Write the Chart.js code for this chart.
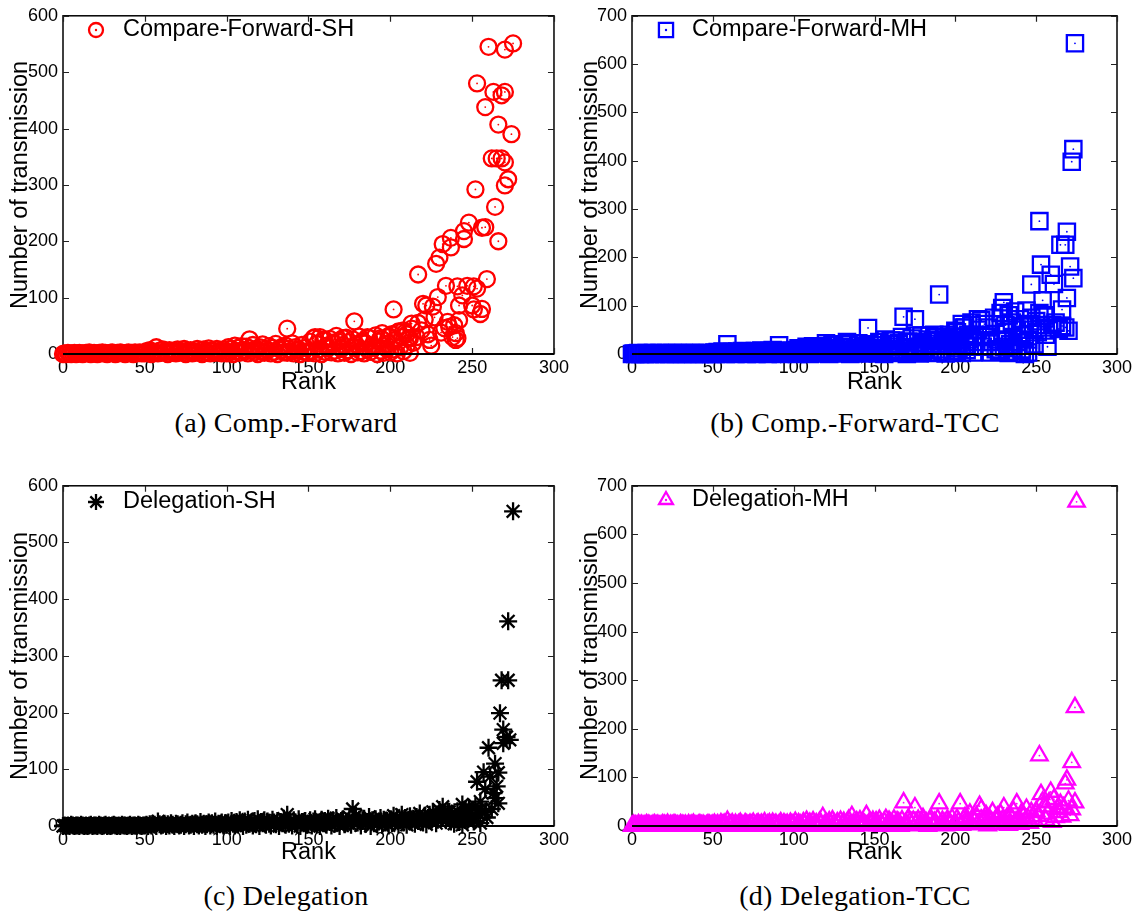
<!DOCTYPE html>
<html><head><meta charset="utf-8">
<script src="https://cdn.jsdelivr.net/npm/chart.js@4.4.1/dist/chart.umd.min.js"></script>
<style>
html,body{margin:0;padding:0;background:#fff;}
body{width:1145px;height:916px;position:relative;overflow:hidden;}
canvas{position:absolute;}
.cap{position:absolute;font-family:"Liberation Serif","Times New Roman",serif;font-size:28px;letter-spacing:0.3px;color:#000;white-space:nowrap;transform:translateX(-50%);line-height:1;}
</style></head><body>
<canvas id="ca" width="572" height="400" style="left:0;top:0"></canvas>
<canvas id="cb" width="572" height="400" style="left:570px;top:0"></canvas>
<canvas id="cc" width="572" height="400" style="left:0;top:470px"></canvas>
<canvas id="cd" width="572" height="400" style="left:570px;top:470px"></canvas>
<div class="cap" style="left:286px;top:409px">(a) Comp.-Forward</div>
<div class="cap" style="left:855px;top:409px">(b) Comp.-Forward-TCC</div>
<div class="cap" style="left:286px;top:882px">(c) Delegation</div>
<div class="cap" style="left:855px;top:882px">(d) Delegation-TCC</div>
<script>
// ---------- data ----------
const xTicks = [0, 50, 100, 150, 200, 250, 300];
const yTicksSH = [0, 100, 200, 300, 400, 500, 600];
const yTicksMH = [0, 100, 200, 300, 400, 500, 600, 700];

const labelA = "Compare-Forward-SH";
const labelB = "Compare-Forward-MH";
const labelC = "Delegation-SH";
const labelD = "Delegation-MH";

// transmissions for ranks 0,1,2,... (one node per rank)
const sentA = [
0,1,0,2,1,0,1,2,0,1, 2,1,0,1,2,1,3,0,1,2, 1,0,2,1,3,1,2,0,1,2, 3,1,0,2,1,3,2,1,0,2, 3,1,2,0,3,1,2,3,1,2,
1,5,2,7,0,4,3,12,1,6, 2,8,3,5,0,7,4,2,6,1, 8,3,5,2,9,0,6,4,7,1, 5,3,9,2,6,0,8,4,3,10, 1,7,5,2,9,4,6,1,8,3,
1,12,3,9,0,15,5,11,2,14, 7,4,13,1,10,6,16,3,8,0, 12,5,17,2,9,6,14,1,11,4, 18,0,10,7,13,3,15,2,9,5, 19,1,12,6,8,0,16,4,11,3,
2,22,5,28,1,18,8,30,0,25, 4,15,10,27,3,20,6,32,1,24, 9,16,2,29,7,21,0,26,12,17, 3,31,5,23,1,19,8,28,4,14, 11,33,0,22,6,26,2,18,9,30,
3,35,8,25,1,40,12,30,5,38, 15,28,2,45,20];
// additional (rank, transmissions) points
const extraRankA = [260,270,275,253,263,268,270,258,266,274, 262,265,268,270,272,270,252,264,248,245,
 245,256,258,266,237,237,232,230,228,217, 259,234,241,247,251,253,244,229,220,222,
 242,250,251,256,255,226,202,227,221,217, 213,242,235,233,239,240,241,240,224,225,
 178,137,114,195,205,154,171,194,160,168, 183,186,199,208,210,212,203, 216,219,223,231,236,238];
const extraSentA = [545,540,551,480,465,459,465,438,407,390, 347,347,347,340,310,299,292,261,233,218,
 204,224,225,200,206,189,195,171,160,141, 133,121,120,121,120,116,104,101,89,86,
 86,86,79,80,71,84,79,65,61,55, 54,60,57,46,51,37,28,25,25,15,
 58,45,26,37,39,30,28,28,25,22, 20,30,32,42,35,28,25, 30,42,35,38,48,30];

const sentB = [
0,1,0,1,2,0,1,1,0,2, 1,0,1,2,1,0,1,2,1,1, 0,2,1,0,1,2,1,0,2,1, 1,0,2,1,0,1,2,1,0,2, 1,1,0,2,1,0,1,2,1,0,
1,3,0,4,2,1,5,2,0,20, 3,1,4,2,0,5,3,1,6,2, 4,0,3,5,1,2,6,0,4,3, 7,1,5,2,0,6,3,8,1,4, 2,18,0,7,3,1,5,4,2,6,
2,8,0,12,5,1,10,3,15,6, 0,9,4,14,2,7,11,1,16,5, 3,12,0,8,18,4,10,2,13,6, 1,15,7,3,20,0,9,5,12,2, 17,4,8,1,14,6,54,3,10,5,
4,18,1,25,8,12,0,30,6,20, 3,15,10,28,2,22,7,35,77,14, 0,26,11,32,4,72,9,24,1,38, 6,16,12,30,3,21,8,40,2,27, 123,10,5,34,1,22,16,29,7,36,
5,45,12,30,2,55,20,8,40,15, 60,3,35,25,50];
const extraRankB = [274,273,272,252,269,265,268,253,271,259, 273,261,247,269,254,230,266,257,
 216,218,220,222,224,226,228,229,231,232, 233,234,235,236,237,238,239,240,241,242,
 243,244,245,246,247,248,249,250,251,252, 253,255,256,258,260,262,264,266,268,270,
 225,230,221,227,219,217,214,212,210,208, 206,204,202,200,198,196,194,192,188,186,
 184,180,178,172,165,160,155,140,133,125, 120,112, 222,228,233,238,243,245,236,241];
const extraSentB = [643,424,398,275,253,226,226,185,181,164, 157,145,144,116,111,107,92,15,
 70,62,55,40,75,30,85,95,60,45, 80,20,65,35,88,50,25,72,10,58,
 40,90,30,62,75,50,20,68,45,85, 60,80,40,55,60,65,52,58,55,48,
 10,15,25,5,35,15,72,40,65,30, 55,62,35,48,25,40,30,18,35,28,
 38,22,15,25,20,28,18,22,25,20, 22,16, 3,8,2,5,0,3,12,6];

const sentC = [
0,1,0,1,0,2,1,0,1,1, 0,2,1,0,1,0,1,2,0,1, 1,0,2,1,0,1,2,0,1,0, 1,2,1,0,1,0,2,1,1,0, 1,2,0,1,1,0,2,1,0,1,
1,2,0,3,1,4,2,0,8,3, 1,2,4,0,3,1,5,2,0,4, 3,1,2,5,0,3,6,1,2,4, 0,5,3,1,7,2,4,0,3,6, 1,5,2,8,0,4,3,6,1,5,
2,6,0,9,4,1,7,3,10,5, 0,8,2,11,4,6,1,9,3,12, 0,7,5,10,2,8,4,1,11,6, 3,9,0,7,5,13,2,20,4,8, 1,10,6,3,12,0,7,5,9,2,
4,10,1,8,12,3,6,0,11,5, 9,2,13,7,1,10,4,14,6,0, 9,12,3,8,5,15,2,30,10,18, 6,11,1,9,13,4,7,16,0,10, 5,12,3,8,14,2,11,6,9,1,
12,5,18,8,15,3,10,20,6,14, 2,11,17,7,13,4,16,9,22,12, 6,18,3,14,20,9,25,15,5,11, 28,18,34,22,10,25,16,8,20,4, 13,26,7,18,2,12,30,9,22,15];
const extraRankC = [275,272,268,272,267,269,271,273,269,260, 264,257,266,261,253,263,264,266,255,252,
 259,255,258,262,250,251,254,256,265,258, 236,240,244,246,248];
const extraSentC = [555,361,257,257,199,170,157,152,146,138, 110,95,94,87,78,58,49,40,43,35,
 15,5,25,30,18,8,20,28,70,65, 25,12,38,20,32];

const sentD = [
0,2,1,0,3,1,2,0,1,3, 2,1,0,2,3,1,2,0,1,3, 2,1,4,0,2,1,3,2,1,0, 3,2,1,2,0,3,1,2,4,1, 0,2,3,1,2,0,1,3,2,1,
2,4,1,3,0,5,2,4,1,10, 3,2,5,0,4,1,3,6,2,0, 5,3,1,4,2,6,0,3,5,1, 4,2,7,0,3,5,1,6,2,4, 0,3,7,1,5,2,4,0,6,3,
2,8,1,5,3,0,7,4,10,2, 6,1,9,3,5,0,8,4,18,2, 6,1,9,3,11,5,0,7,4,10, 2,8,1,6,12,3,20,5,0,9, 4,11,2,7,3,22,1,8,5,10,
3,9,1,12,5,0,8,14,2,10, 6,4,13,1,9,7,0,11,48,5, 3,15,8,2,10,38,6,12,1,9, 16,4,7,0,11,13,2,8,5,14, 46,3,10,6,1,12,9,4,15,2,
5,14,8,46,2,12,18,6,10,25, 3,15,9,20,4,41,34,7,12,22, 1,16,9,28,5,13,19,3,24,11, 38,6,17,2,21,14,30,8,46,12, 4,26,18,9,35,15,6,28,20,11];
const extraRankD = [275,274,252,272,269,268,259,253,274,270, 272,266,255,257,261,263,265,250,251,256,
 260,262,264,267,271,258,254];
const extraSentD = [667,244,145,131,95,87,70,65,48,52, 34,19,40,25,55,35,45,30,20,12,
 8,18,28,38,22,48,50];

// ---------- drawing ----------
const SANS = '"Liberation Sans", Arial, Helvetica, sans-serif';
Chart.defaults.font.family = SANS;
Chart.defaults.color = '#000';

function toPoints(main, er, es) {
  const out = main.map((v, i) => ({x: i, y: v}));
  er.forEach((r, k) => out.push({x: r, y: es[k]}));
  return out;
}

const framePlugin = {
  id: 'frame',
  beforeDatasetsDraw(chart) {
    const {ctx, chartArea: a, scales: {x, y}} = chart;
    ctx.save();
    ctx.strokeStyle = '#000';
    ctx.lineWidth = 1.5;
    ctx.strokeRect(a.left, a.top, a.right - a.left, a.bottom - a.top);
    ctx.lineWidth = 1.2;
    ctx.strokeStyle = '#222';
    ctx.beginPath();
    y.ticks.forEach(t => {
      const p = Math.round(y.getPixelForValue(t.value)) + 0.5;
      ctx.moveTo(a.left, p); ctx.lineTo(a.left + 6, p);
      ctx.moveTo(a.right, p); ctx.lineTo(a.right - 6, p);
    });
    x.ticks.forEach(t => {
      const p = Math.round(x.getPixelForValue(t.value)) + 0.5;
      ctx.moveTo(p, a.bottom); ctx.lineTo(p, a.bottom - 6);
      ctx.moveTo(p, a.top); ctx.lineTo(p, a.top + 6);
    });
    ctx.stroke();
    ctx.restore();
  },
  afterDatasetsDraw(chart) {
    const {ctx, chartArea: a, scales: {y}} = chart;
    const p = y.getPixelForValue(0);
    ctx.save();
    ctx.strokeStyle = '#000';
    ctx.lineWidth = 2.2;
    ctx.beginPath();
    ctx.moveTo(a.left, p); ctx.lineTo(a.right, p);
    ctx.stroke();
    ctx.restore();
  },
  afterDraw(chart) {
    const o = chart.options.plugins.frame;
    const ctx = chart.ctx;
    ctx.save();
    ctx.strokeStyle = o.color;
    ctx.fillStyle = 'rgba(0,0,0,0)';
    ctx.lineWidth = o.bw;
    Chart.helpers.drawPoint(ctx, {pointStyle: o.style, radius: o.lr, rotation: 0, borderWidth: o.bw}, o.lx, o.ly);
    if (o.dot) {
      ctx.fillStyle = o.color;
      ctx.beginPath(); ctx.arc(o.lx, o.ly, 1.2, 0, Math.PI * 2); ctx.fill();
    }
    ctx.fillStyle = '#000';
    ctx.font = '23.5px ' + SANS;
    ctx.textBaseline = 'middle';
    ctx.textAlign = 'left';
    ctx.fillText(o.label, o.tx, o.ly);
    ctx.restore();
  }
};

function panel(id, main, er, es, o) {
  const W = 572, H = 400;
  const pts = toPoints(main, er, es);
  const ds = [{
    data: pts, showLine: false, clip: false,
    pointStyle: o.style, pointRadius: o.r, pointBorderWidth: o.bw,
    pointBorderColor: o.color, pointBackgroundColor: 'rgba(0,0,0,0)'
  }];
  if (o.dot) {
    ds.push({
      data: pts, showLine: false, clip: false,
      pointStyle: 'circle', pointRadius: 0.9, pointBorderWidth: 0,
      pointBackgroundColor: o.color
    });
  }
  new Chart(document.getElementById(id), {
    type: 'scatter',
    data: {datasets: ds},
    options: {
      responsive: false, animation: false, devicePixelRatio: 1, events: [],
      layout: {padding: {top: o.T, right: W - o.R, left: 0, bottom: 0}},
      plugins: {
        legend: {display: false}, tooltip: {enabled: false},
        frame: {color: o.color, style: o.style, lr: o.lr, bw: o.bw, dot: o.dot, lx: o.lx, ly: o.ly, tx: o.tx, label: o.label}
      },
      scales: {
        x: {
          type: 'linear', min: 0, max: 300,
          afterBuildTicks(s) { s.ticks = xTicks.map(v => ({value: v})); },
          ticks: {font: {size: 18}, color: '#000', padding: 3, maxRotation: 0, autoSkip: false},
          grid: {display: false, drawTicks: false, tickLength: 0},
          border: {display: false},
          title: {display: true, text: 'Rank', font: {size: 23.5}, color: '#000', padding: {top: 0, bottom: 3}},
          afterFit(s) { s.height = H - o.B; }
        },
        y: {
          type: 'linear', min: 0, max: o.yTicks[o.yTicks.length - 1],
          afterBuildTicks(s) { s.ticks = o.yTicks.map(v => ({value: v})); },
          ticks: {font: {size: 18}, color: '#000', padding: 5},
          grid: {display: false, drawTicks: false, tickLength: 0},
          border: {display: false},
          title: {display: true, text: 'Number of transmission', font: {size: 23.5}, color: '#000', padding: {top: 6, bottom: 0}},
          afterFit(s) { s.width = o.L; }
        }
      }
    },
    plugins: [framePlugin]
  });
}

panel('ca', sentA, extraRankA, extraSentA, {color: '#ff0000', style: 'circle', r: 8, lr: 7, bw: 2.3, dot: true,
  L: 63, R: 559, T: 13, B: 354, yTicks: yTicksSH, lx: 96, ly: 30, tx: 123, label: labelA});
panel('cb', sentB, extraRankB, extraSentB, {color: '#0000ff', style: 'rect', r: 11.5, lr: 10, bw: 2.3, dot: true,
  L: 62, R: 547, T: 13, B: 354, yTicks: yTicksMH, lx: 96, ly: 30, tx: 122, label: labelB});
panel('cc', sentC, extraRankC, extraSentC, {color: '#000000', style: 'star', r: 9, lr: 8, bw: 2.3, dot: false,
  L: 63, R: 559, T: 14, B: 356, yTicks: yTicksSH, lx: 96, ly: 32, tx: 123, label: labelC});
panel('cd', sentD, extraRankD, extraSentD, {color: '#ff00ff', style: 'triangle', r: 9.5, lr: 8, bw: 2.3, dot: true,
  L: 62, R: 547, T: 14, B: 356, yTicks: yTicksMH, lx: 96, ly: 30, tx: 122, label: labelD});
</script>
</body></html>
